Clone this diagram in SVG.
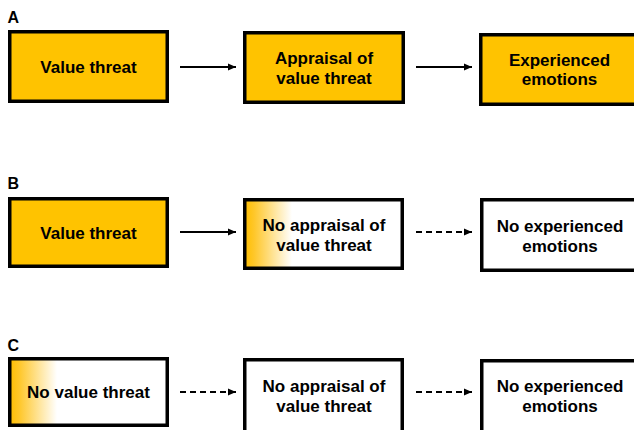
<svg xmlns="http://www.w3.org/2000/svg" width="634" height="430" viewBox="0 0 634 430">
<defs>
<linearGradient id="fade" x1="0" y1="0" x2="1" y2="0">
<stop offset="0" stop-color="#FFBE00"/>
<stop offset="0.06" stop-color="#FFC72A"/>
<stop offset="0.3" stop-color="#FFFFFF"/>
</linearGradient>
<marker id="ah" markerUnits="userSpaceOnUse" markerWidth="9" markerHeight="9" refX="8" refY="4.5" orient="auto">
<path d="M0,1 L8,4.5 L0,8 Z" fill="#000"/>
</marker>
</defs>
<style>
.box{stroke:#000;stroke-width:3.5}
.on{fill:#FFC300}
.off{fill:#fff}
.fade{fill:url(#fade)}
text{font-family:"Liberation Sans",Arial,Helvetica,sans-serif;font-weight:bold;fill:#000}
.lbl{font-size:17px;text-anchor:middle}
.pl{font-size:16px}
.arr{stroke:#000;stroke-width:2;fill:none;marker-end:url(#ah)}
.dash{stroke-dasharray:6 4}
</style>
<rect width="634" height="430" fill="#fff"/>
<text class="pl" x="7.5" y="23">A</text>
<text class="pl" x="7.5" y="189">B</text>
<text class="pl" x="7.5" y="351">C</text>

<g id="a1"><rect class="box on" x="9.75" y="31.75" width="157.5" height="69.5"/><text class="lbl" x="88.5" y="73">Value threat</text></g>
<g id="a2"><rect class="box on" x="244.75" y="32.75" width="158.5" height="69.5"/><text class="lbl" x="324" y="64">Appraisal of</text><text class="lbl" x="324" y="83.5">value threat</text></g>
<g id="a3"><rect class="box on" x="480.75" y="34.75" width="157.5" height="69.5"/><text class="lbl" x="559.5" y="65.5">Experienced</text><text class="lbl" x="559.5" y="85">emotions</text></g>

<g id="b1"><rect class="box on" x="9.75" y="198.75" width="157.5" height="67.5"/><text class="lbl" x="88.5" y="238.5">Value threat</text></g>
<g id="b2"><rect class="box fade" x="244.75" y="199.75" width="157.5" height="68.5"/><text class="lbl" x="324" y="231">No appraisal of</text><text class="lbl" x="324" y="250.5">value threat</text></g>
<g id="b3"><rect class="box off" x="481.75" y="199.75" width="157.5" height="70.5"/><text class="lbl" x="560" y="232">No experienced</text><text class="lbl" x="560" y="251.5">emotions</text></g>

<g id="c1"><rect class="box fade" x="9.75" y="358.75" width="157.5" height="66.5"/><text class="lbl" x="88.5" y="398">No value threat</text></g>
<g id="c2"><rect class="box off" x="244.75" y="359.75" width="157.5" height="72"/><text class="lbl" x="324" y="392">No appraisal of</text><text class="lbl" x="324" y="411.5">value threat</text></g>
<g id="c3"><rect class="box off" x="481.75" y="360.75" width="157.5" height="72"/><text class="lbl" x="560" y="392">No experienced</text><text class="lbl" x="560" y="411.5">emotions</text></g>

<g id="connectors">
<line class="arr" x1="180" y1="67" x2="236" y2="67"/>
<line class="arr" x1="416" y1="67" x2="472" y2="67"/>
<line class="arr" x1="180" y1="232" x2="236" y2="232"/>
<line class="arr dash" x1="416" y1="232" x2="472" y2="232"/>
<line class="arr dash" x1="180" y1="392" x2="236" y2="392"/>
<line class="arr dash" x1="416" y1="392" x2="472" y2="392"/>
</g>
</svg>
